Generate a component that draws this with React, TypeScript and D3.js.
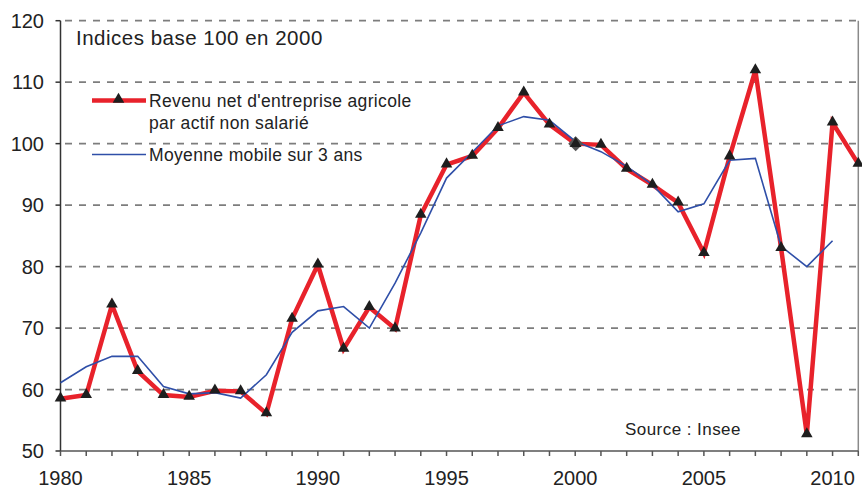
import React from "react";
import * as d3 from "d3";

const years: number[] = d3.range(1980, 2012);
const revenu: number[] = [
  58.5, 59.1, 73.8, 63.0, 59.1, 58.8, 59.8, 59.7, 56.1, 71.5,
  80.3, 66.6, 73.4, 69.9, 88.4, 96.6, 98.0, 102.5, 108.3, 103.1,
  100.0, 99.8, 95.9, 93.3, 90.4, 82.2, 97.9, 111.9, 83.0, 52.7,
  103.4, 96.7,
];
const moyenneYears: number[] = d3.range(1980, 2011);
const moyenne: number[] = [
  61.1, 63.7, 65.4, 65.4, 60.5, 59.3, 59.5, 58.6, 62.4, 69.3,
  72.8, 73.5, 70.0, 77.3, 85.5, 94.4, 98.6, 102.9, 104.4, 103.8,
  100.4, 98.7, 96.3, 93.3, 88.9, 90.2, 97.3, 97.6, 83.3, 80.0,
  84.2,
];
const yTicks: number[] = [50, 60, 70, 80, 90, 100, 110, 120];
const xLabels: number[] = [1980, 1985, 1990, 1995, 2000, 2005, 2010];
const baseYear = 2000;

const W = 862;
const H = 493;
const left = 60.5;
const right = 858.3;
const top = 20.7;
const bottom = 451;

const FONT = "'Liberation Sans', Arial, sans-serif";
const TXT = "#222";
const RED = "#e8222b";
const BLUE = "#2f4fa8";

export default function App() {
  const x = d3.scaleLinear().domain([1980, 2011]).range([left, right]);
  const y = d3.scaleLinear().domain([50, 120]).range([bottom, top]);

  const lineR = d3
    .line<number>()
    .x((_, i) => x(years[i]))
    .y((d) => y(d));
  const lineB = d3
    .line<number>()
    .x((_, i) => x(moyenneYears[i]))
    .y((d) => y(d));

  const tri = d3.symbol().type(d3.symbolTriangle).size(58)() as string;
  const dR = 7.5;
  const diamond = `M0,${-dR}L${dR},0L0,${dR}L${-dR},0Z`;
  const baseIdx = years.indexOf(baseYear);

  return (
    <svg
      width={W}
      height={H}
      style={{ position: "absolute", left: 0, top: 0, background: "#fff" }}
    >
      {/* gridlines */}
      {yTicks
        .filter((t) => t > 50)
        .map((t) => (
          <line
            key={"g" + t}
            x1={left}
            x2={right}
            y1={y(t)}
            y2={y(t)}
            stroke="#7d7d7d"
            strokeWidth={1.8}
            strokeDasharray="7,7"
            strokeDashoffset={9.5}
          />
        ))}
      {/* right border */}
      <line x1={right} x2={right} y1={top} y2={bottom} stroke="#8a8a8a" strokeWidth={1.5} />
      {/* left axis */}
      <line x1={left} x2={left} y1={top} y2={bottom} stroke="#333" strokeWidth={1.5} />
      {yTicks.map((t) => (
        <g key={"y" + t}>
          <line x1={left - 5} x2={left} y1={y(t)} y2={y(t)} stroke="#333" strokeWidth={1.5} />
          <text
            x={44}
            y={y(t)}
            dy="0.35em"
            textAnchor="end"
            fontFamily={FONT}
            fontSize={20}
            fill={TXT}
          >
            {t}
          </text>
        </g>
      ))}
      {/* bottom axis */}
      <line x1={left} x2={right} y1={bottom} y2={bottom} stroke="#555" strokeWidth={1.5} />
      {years.map((yr) => (
        <line
          key={"xt" + yr}
          x1={x(yr)}
          x2={x(yr)}
          y1={bottom}
          y2={bottom + 5}
          stroke="#555"
          strokeWidth={1.5}
        />
      ))}
      {xLabels.map((yr) => (
        <text
          key={"xl" + yr}
          x={x(yr)}
          y={485}
          textAnchor="middle"
          fontFamily={FONT}
          fontSize={20}
          fill={TXT}
        >
          {yr}
        </text>
      ))}

      {/* series */}
      <path d={lineR(revenu) || ""} fill="none" stroke={RED} strokeWidth={4.5} strokeLinejoin="miter" />
      <path d={lineB(moyenne) || ""} fill="none" stroke={BLUE} strokeWidth={1.6} />
      {revenu.map((v, i) => (
        <path
          key={"m" + i}
          d={tri}
          transform={`translate(${x(years[i])},${y(v) - 0.5})`}
          fill="#1e1e1e"
        />
      ))}
      <path
        d={diamond}
        transform={`translate(${x(years[baseIdx]) + 0.5},${y(revenu[baseIdx])})`}
        fill="#555"
      />
      <path
        d={tri}
        transform={`translate(${x(years[baseIdx]) + 0.5},${y(revenu[baseIdx])})`}
        fill="#1e1e1e"
      />

      {/* title */}
      <text x={76} y={45} fontFamily={FONT} fontSize={20.5} letterSpacing={0.5} fill={TXT}>
        Indices base 100 en 2000
      </text>

      {/* legend */}
      <line x1={92} x2={146} y1={100.5} y2={100.5} stroke={RED} strokeWidth={4.5} />
      <path d={tri} transform="translate(118.5,99.5)" fill="#1e1e1e" />
      <text x={149} y={107} fontFamily={FONT} fontSize={17.5} letterSpacing={0.35} fill={TXT}>
        Revenu net d'entreprise agricole
      </text>
      <text x={149} y={129} fontFamily={FONT} fontSize={17.5} letterSpacing={0.35} fill={TXT}>
        par actif non salarié
      </text>
      <line x1={92} x2={146} y1={154.5} y2={154.5} stroke={BLUE} strokeWidth={1.6} />
      <text x={149} y={161} fontFamily={FONT} fontSize={17.5} letterSpacing={0.35} fill={TXT}>
        Moyenne mobile sur 3 ans
      </text>

      {/* source */}
      <text x={625} y={435} fontFamily={FONT} fontSize={17} letterSpacing={0.45} fill={TXT}>
        Source : Insee
      </text>
    </svg>
  );
}
